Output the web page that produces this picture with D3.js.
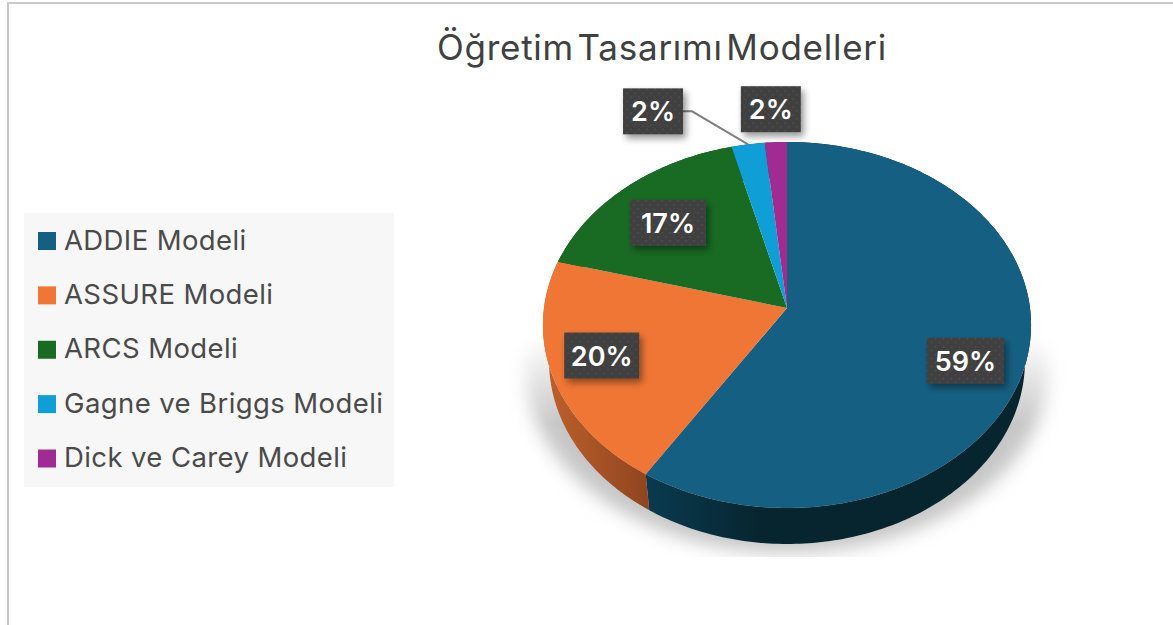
<!DOCTYPE html>
<html><head><meta charset="utf-8">
<script src="https://cdnjs.cloudflare.com/ajax/libs/d3/7.9.0/d3.min.js"></script>
<style>html,body{margin:0;padding:0;background:#fff;overflow:hidden}svg{display:block}</style>
</head><body><div id="c"></div>
<script>
const categories = ["ADDIE Modeli","ASSURE Modeli","ARCS Modeli","Gagne ve Briggs Modeli","Dick ve Carey Modeli"];
const values = [59, 20.2, 16.8, 2.4, 1.6];
const colors = ["#156082","#F07635","#196B24","#0F9ED5","#A02B93"];
const sideDark = ["#07252f","#8f451f","#0e3d14","#085a7a","#5a1853"];
const sideLight = ["#0a3a50","#c0602c","#124d1a","#0a6d92","#6e1e66"];
const title = "Öğretim Tasarımı Modelleri";

const W=1173,H=625;
const cx=787, cy=308, R=243, C=181.4, K=0.0929, depth=36, lowScale=0.975;
const labelRadius=0.75;
const labelNudge=[[0,14],[-11,-3],[3,7],null,null];
const labelShift=[null,null,null,14,12];
const labelWidth=[77,75,76,60,60], labelHeight=46;
const fontStack="Inter, 'Noto Sans', sans-serif";

const svg=d3.select("#c").append("svg").attr("width",W).attr("height",H);
const defs=svg.append("defs");

const blur=defs.append("filter").attr("id","blur").attr("x","-20%").attr("y","-20%").attr("width","140%").attr("height","140%");
blur.append("feGaussianBlur").attr("stdDeviation",9);
const ds=defs.append("filter").attr("id","ds").attr("x","-30%").attr("y","-30%").attr("width","170%").attr("height","170%");
ds.append("feDropShadow").attr("dx",3).attr("dy",4).attr("stdDeviation",3.5).attr("flood-color","#000").attr("flood-opacity",0.42);
const pat=defs.append("pattern").attr("id","dots").attr("width",8).attr("height",8).attr("patternUnits","userSpaceOnUse");
pat.append("rect").attr("width",8).attr("height",8).attr("fill","#3f3f3f");
pat.append("circle").attr("cx",2).attr("cy",2).attr("r",0.9).attr("fill","#4d4d4d");
pat.append("circle").attr("cx",6).attr("cy",6).attr("r",0.9).attr("fill","#4d4d4d");

const fade=defs.append("linearGradient").attr("id","fade").attr("x1",0).attr("x2",0).attr("y1",0).attr("y2",1);
fade.append("stop").attr("offset",0).attr("stop-color","#fff").attr("stop-opacity",0);
fade.append("stop").attr("offset",0.4).attr("stop-color","#fff").attr("stop-opacity",1);
const mask=defs.append("mask").attr("id","shMask").attr("maskUnits","userSpaceOnUse").attr("x",0).attr("y",0).attr("width",W).attr("height",H);
mask.append("rect").attr("x",500).attr("y",335).attr("width",580).attr("height",222).attr("fill","url(#fade)");

// frame
svg.append("path").attr("d",`M8,${H} V3 H${W}`).attr("fill","none").attr("stroke","#c9c9c9").attr("stroke-width",2);

// projection of pie angle + radius fraction
function proj(a,r=1,dy=0,sx=1){
  const X=Math.sin(a)*r, Y=-Math.cos(a)*r;
  const w=1-K*Y;
  return [cx+sx*R*X/w, cy+C*Y/w+dy];
}
const pie=d3.pie().sort(null).value(d=>d);
const arcs=pie(values);
const line=d3.line();
function rim(d,dy=0,sx=1){
  const n=Math.max(4,Math.ceil((d.endAngle-d.startAngle)*60));
  return d3.range(n+1).map(i=>proj(d.startAngle+(d.endAngle-d.startAngle)*i/n,1,dy,sx));
}

// shadow
const sh=svg.append("g").attr("mask","url(#shMask)");
sh.append("path")
  .attr("d",line(d3.range(121).map(i=>proj(i/120*2*Math.PI,1,45,1.07)))+"Z")
  .attr("fill","#c6c6c6").attr("filter","url(#blur)");

// side walls
arcs.forEach((d,i)=>{
  const pts=rim(d), low=rim(d,depth,lowScale).reverse();
  const xs=pts.concat(low).map(p=>p[0]);
  const g=defs.append("linearGradient").attr("id","side"+i).attr("gradientUnits","userSpaceOnUse")
    .attr("x1",d3.min(xs)).attr("x2",d3.max(xs)).attr("y1",0).attr("y2",0);
  g.append("stop").attr("offset",0).attr("stop-color",sideLight[i]);
  g.append("stop").attr("offset",i===0?0.3:1).attr("stop-color",sideDark[i]);
  svg.append("path").attr("d",line(pts.concat(low))+"Z").attr("fill",`url(#side${i})`);
});

// top faces
svg.append("g").selectAll("path").data(arcs).join("path")
  .attr("d",d=>line([[cx,cy]].concat(rim(d)))+"Z")
  .attr("fill",(d,i)=>colors[i]);

// title
svg.append("text").attr("x",662).attr("y",60).attr("text-anchor","middle")
  .attr("font-family",fontStack).attr("font-size",35).attr("letter-spacing",0.75).attr("fill","#404040").attr("word-spacing",-7).text(title);

// legend
svg.append("rect").attr("x",24).attr("y",213).attr("width",370).attr("height",274).attr("fill","#f7f7f7");
const ly=d3.scalePoint().domain(categories).range([240.5,458]);
const lg=svg.append("g").selectAll("g").data(categories).join("g");
lg.append("rect").attr("x",38).attr("y",d=>ly(d)-8.5).attr("width",18).attr("height",18)
  .attr("fill",(d,i)=>colors[i]);
lg.append("text").attr("x",64).attr("y",d=>ly(d)+9).attr("font-family",fontStack).attr("font-size",27.5).attr("letter-spacing",0.4)
  .attr("fill","#4a4a4a").text(d=>d);

// labels
const fmt=d=>Math.round(d/d3.sum(values)*100)+"%";
function labelPos(d,i){
  const mid=(d.startAngle+d.endAngle)/2;
  if(labelNudge[i]){const p=proj(mid,labelRadius);return [p[0]+labelNudge[i][0],p[1]+labelNudge[i][1]];}
  const p=proj(mid,1);
  return [(i===3?p[0]-109:p[0]-17)+labelShift[i], p[1]-33];
}
// leader line for the small slice
{
  const d=arcs[3], p=proj((d.startAngle+d.endAngle)/2,1), q=labelPos(d,3);
  svg.append("path").attr("d",line([[q[0]+labelWidth[3]/2,q[1]],[q[0]+labelWidth[3]/2+9,q[1]],p]))
    .attr("fill","none").attr("stroke","#808080").attr("stroke-width",2);
}
const lab=svg.append("g").selectAll("g").data(arcs).join("g");
lab.attr("transform",(d,i)=>{const p=labelPos(d,i);return `translate(${p[0]},${p[1]})`;});
lab.append("rect").attr("x",(d,i)=>-labelWidth[i]/2).attr("y",-labelHeight/2)
  .attr("width",(d,i)=>labelWidth[i]).attr("height",labelHeight).attr("fill","url(#dots)").attr("filter","url(#ds)");
lab.append("text").attr("text-anchor","middle").attr("y",10).attr("font-family",fontStack)
  .attr("font-weight",600).attr("font-size",27).attr("fill","#fff").text(d=>fmt(d.value));
</script></body></html>
